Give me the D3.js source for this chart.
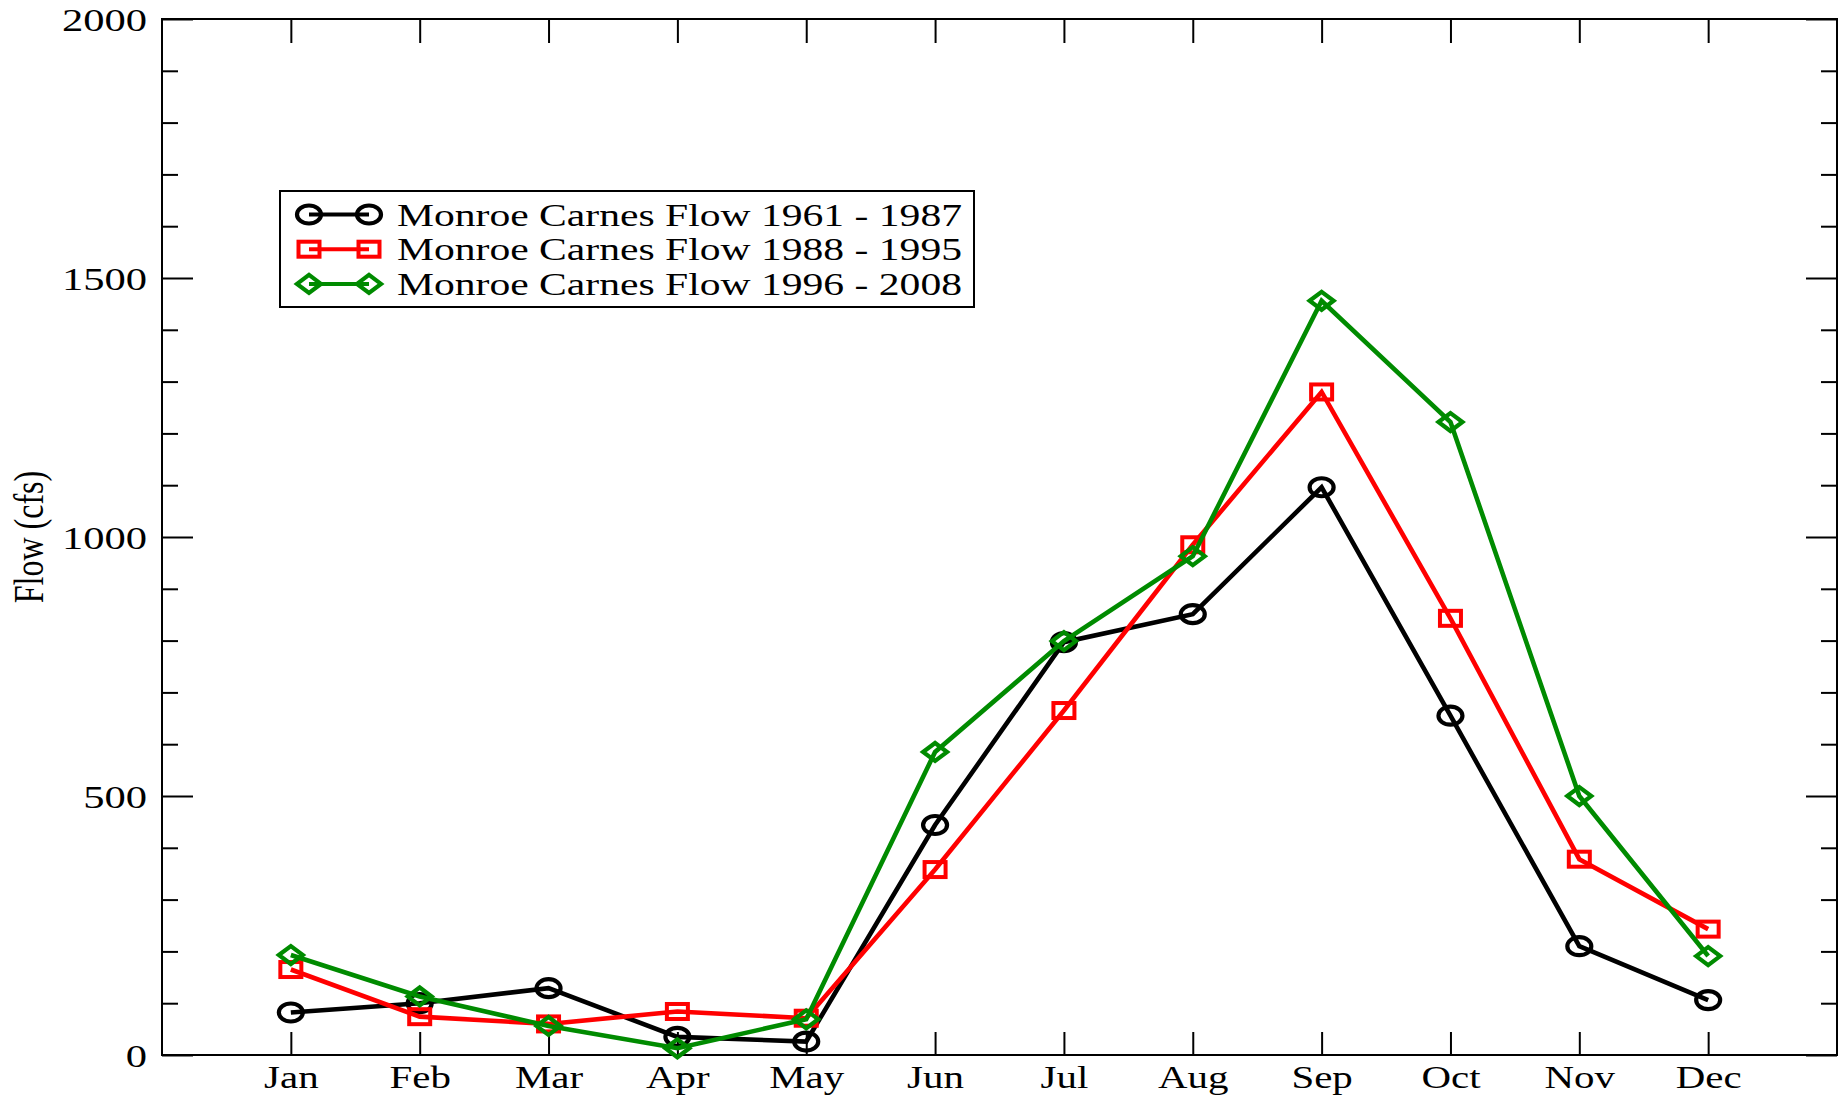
<!DOCTYPE html>
<html>
<head>
<meta charset="utf-8">
<script src="https://cdn.jsdelivr.net/npm/d3@7"></script>
<style>
  html, body { margin: 0; padding: 0; background: #fff; }
  svg { display: block; }
  text { font-family: "Liberation Serif", "Times New Roman", Times, serif; fill: #000; }
</style>
</head>
<body>
<svg id="chart" width="1847" height="1098"></svg>
<script>
// ---- data ----
const months = ["Jan","Feb","Mar","Apr","May","Jun","Jul","Aug","Sep","Oct","Nov","Dec"];
const flow1961_1987 = [82, 100, 129, 35, 26, 444, 797, 851, 1096, 655, 210, 106];
const flow1988_1995 = [165, 74, 60, 84, 71, 358, 665, 985, 1280, 843, 378, 243];
const flow1996_2008 = [193, 113, 56, 13, 69, 585, 799, 963, 1456, 1222, 500, 191];
const seriesNames = ["Monroe Carnes Flow 1961 - 1987", "Monroe Carnes Flow 1988 - 1995", "Monroe Carnes Flow 1996 - 2008"];
const yMajorTicks = [0, 500, 1000, 1500, 2000];
const yLabel = "Flow (cfs)";

// ---- layout ----
const L = 162, R = 1837, T = 19, B = 1055;
const svg = d3.select("#chart");

const x = d3.scaleLinear().domain([0, 13]).range([L, R]);
const y = d3.scaleLinear().domain([0, 2000]).range([B, T]);
const monthIdx = d3.range(1, 13);
const yMinor = d3.range(0, 2001, 100).filter(v => v % 500 !== 0);

function styleAxis(g) {
  g.select(".domain").remove();
  g.selectAll(".tick line").attr("stroke", "#000").attr("stroke-width", 2);
}

// bottom axis with month labels
const gB = svg.append("g").attr("transform", `translate(0,${B})`)
  .call(d3.axisBottom(x).tickValues(monthIdx).tickFormat(i => months[i - 1]).tickSizeInner(-23).tickSizeOuter(0));
styleAxis(gB);
gB.selectAll(".tick text")
  .attr("y", 0).attr("dy", 0)
  .attr("transform", `translate(0,33) scale(1.28,1)`)
  .style("font-size", "32px").attr("font-family", null);

// top axis
const gT = svg.append("g").attr("transform", `translate(0,${T})`)
  .call(d3.axisTop(x).tickValues(monthIdx).tickFormat("").tickSizeInner(-24).tickSizeOuter(0));
styleAxis(gT);

// left axis major + labels
const gL = svg.append("g").attr("transform", `translate(${L},0)`)
  .call(d3.axisLeft(y).tickValues(yMajorTicks).tickFormat(d3.format("d")).tickSizeInner(-31).tickSizeOuter(0));
styleAxis(gL);
gL.selectAll(".tick text")
  .attr("x", 0).attr("dy", "0.36em")
  .attr("transform", `translate(-15,0) scale(1.33,1)`)
  .style("font-size", "32px").attr("font-family", null);
const gLm = svg.append("g").attr("transform", `translate(${L},0)`)
  .call(d3.axisLeft(y).tickValues(yMinor).tickFormat("").tickSizeInner(-16).tickSizeOuter(0));
styleAxis(gLm);

// right axis mirrored
const gR = svg.append("g").attr("transform", `translate(${R},0)`)
  .call(d3.axisRight(y).tickValues(yMajorTicks).tickFormat("").tickSizeInner(-31).tickSizeOuter(0));
styleAxis(gR);
const gRm = svg.append("g").attr("transform", `translate(${R},0)`)
  .call(d3.axisRight(y).tickValues(yMinor).tickFormat("").tickSizeInner(-16).tickSizeOuter(0));
styleAxis(gRm);

// frame
svg.append("rect").attr("x", L).attr("y", T).attr("width", R - L).attr("height", B - T)
  .attr("fill", "none").attr("stroke", "#000").attr("stroke-width", 2);

// y label
svg.append("text")
  .attr("transform", `translate(43,${(T + B) / 2}) scale(1.3,1) rotate(-90)`)
  .attr("text-anchor", "middle")
  .style("font-size", "32px")
  .text(yLabel);

// ---- markers ----
function drawMarker(g, type, cx, cy, color) {
  if (type === "circle") {
    g.append("ellipse").attr("cx", cx).attr("cy", cy).attr("rx", 12).attr("ry", 9)
      .attr("fill", "none").attr("stroke", color).attr("stroke-width", 4.2);
  } else if (type === "square") {
    g.append("rect").attr("x", cx - 10.5).attr("y", cy - 7.5).attr("width", 21).attr("height", 15)
      .attr("fill", "none").attr("stroke", color).attr("stroke-width", 4);
  } else {
    g.append("polygon")
      .attr("points", [[cx - 12, cy], [cx, cy - 9], [cx + 12, cy], [cx, cy + 9]].map(p => p.join(",")).join(" "))
      .attr("fill", "none").attr("stroke", color).attr("stroke-width", 4.2).attr("stroke-linejoin", "miter");
  }
}

const series = [
  { name: seriesNames[0], values: flow1961_1987, color: "#000000", marker: "circle" },
  { name: seriesNames[1], values: flow1988_1995, color: "#ff0000", marker: "square" },
  { name: seriesNames[2], values: flow1996_2008, color: "#008b00", marker: "diamond" }
];

const line = d3.line().x((d, i) => x(i + 1)).y(d => y(d));
series.forEach(s => {
  const g = svg.append("g");
  g.append("path").attr("d", line(s.values)).attr("fill", "none")
    .attr("stroke", s.color).attr("stroke-width", 4.6).attr("stroke-linejoin", "miter");
  s.values.forEach((v, i) => drawMarker(g, s.marker, x(i + 1), y(v), s.color));
});

// ---- legend ----
const lg = svg.append("g");
lg.append("rect").attr("x", 280).attr("y", 191).attr("width", 694).attr("height", 116)
  .attr("fill", "#fff").attr("stroke", "#000").attr("stroke-width", 2);
series.forEach((s, k) => {
  const cy = 214.5 + k * 34.7;
  lg.append("line").attr("x1", 309).attr("x2", 369).attr("y1", cy).attr("y2", cy)
    .attr("stroke", s.color).attr("stroke-width", 4);
  drawMarker(lg, s.marker, 309, cy, s.color);
  drawMarker(lg, s.marker, 369, cy, s.color);
  lg.append("text")
    .attr("transform", `translate(397,${cy + 11}) scale(1.3,1)`)
    .style("font-size", "32px")
    .text(s.name);
});
</script>
</body>
</html>
